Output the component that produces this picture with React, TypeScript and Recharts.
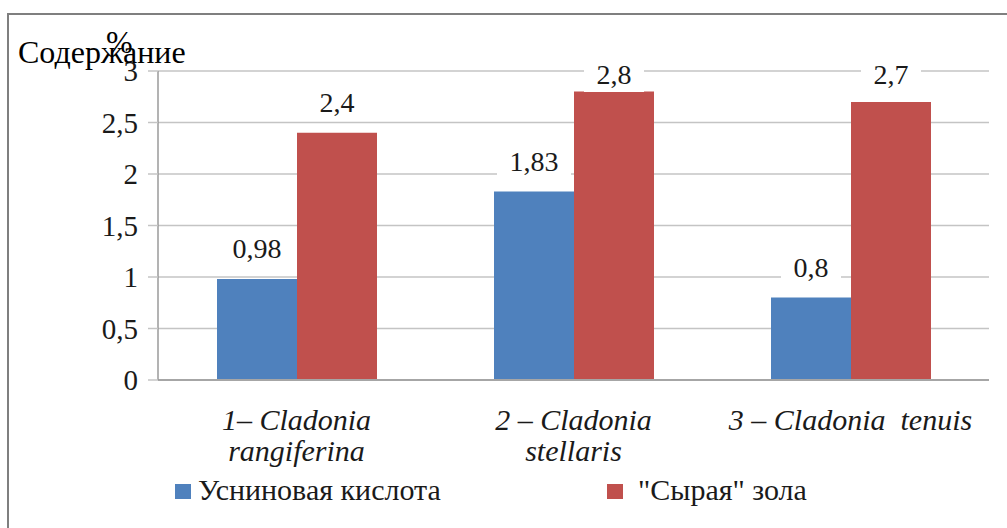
import React, { useLayoutEffect, useEffect } from "react";
import { BarChart, Bar, XAxis, YAxis, CartesianGrid, Legend, LabelList } from "recharts";

const categories = ["1– Cladonia rangiferina", "2 – Cladonia stellaris", "3 – Cladonia  tenuis"];
const categoryLines = [["1– Cladonia", "rangiferina"], ["2 – Cladonia", "stellaris"], ["3 – Cladonia  tenuis"]];
const usnicAcid = [0.98, 1.83, 0.8];
const rawAsh = [2.4, 2.8, 2.7];
const yTicks = [0, 0.5, 1, 1.5, 2, 2.5, 3];
const boundaryTicks = [0, 1, 2, 3];
const seriesNames = ["Усниновая кислота", "\"Сырая\" зола"];
const seriesColors = ["#4F81BD", "#C0504D"];
const titleText = "Содержание";
const unitText = "%";

const data = categories.map((name, i) => ({ name, usnic: usnicAcid[i], ash: rawAsh[i] }));

const FONT = '"Liberation Serif", "Times New Roman", serif';
const TEXT = "#1a1a1a";
const fmt = (v: number) => String(v).replace(".", ",");

const forceSerif = () => {
  const nodes = document.querySelectorAll("#chart-root text, #chart-root .serif-t, #chart-root .recharts-legend-wrapper div");
  nodes.forEach((el: any) => {
    el.style.setProperty("font-family", FONT, "important");
  });
};

const YTick = (props: any) => {
  const { x, y, payload } = props;
  return (
    <text className="serif-t" x={x} y={y} dy={10} textAnchor="end" fontFamily={FONT} fontSize={29} fill={TEXT}>
      {fmt(payload.value)}
    </text>
  );
};

const XTick = (props: any) => {
  const { x, y, payload } = props;
  const idx = categories.indexOf(payload.value);
  const lines = categoryLines[idx] || [payload.value];
  return (
    <g>
      {lines.map((l, i) => (
        <text
          key={i}
          className="serif-t"
          x={x}
          y={y + 50 + i * 31}
          textAnchor="middle"
          fill={TEXT}
          fontFamily={FONT}
          fontStyle="italic"
          fontSize={30}
          style={{ whiteSpace: "pre" }}
        >
          {l}
        </text>
      ))}
    </g>
  );
};

const EmptyTick = () => <g />;

const ValueLabel = (props: any) => {
  const { x, y, width, value } = props;
  const cx = x + width / 2;
  const by = Math.max(y - 21, 84);
  const txt = fmt(value);
  const w = txt.length * 14 + 18;
  return (
    <g>
      <rect x={cx - w / 2} y={by - 25} width={w} height={33} fill="#ffffff" />
      <text className="serif-t" x={cx} y={by} textAnchor="middle" fill={TEXT} fontFamily={FONT} fontSize={28}>
        {txt}
      </text>
    </g>
  );
};

const legendPos = [
  { sq: 175, tx: 198 },
  { sq: 607, tx: 638 },
];

const LegendContent = () => (
  <div style={{ position: "relative", width: 1007, height: 36 }}>
    {seriesNames.map((n, i) => (
      <React.Fragment key={n}>
        <div
          style={{
            position: "absolute",
            left: legendPos[i].sq,
            top: 10,
            width: 16,
            height: 15,
            background: seriesColors[i],
          }}
        />
        <div
          className="serif-t"
          style={{
            position: "absolute",
            left: legendPos[i].tx,
            top: 0,
            fontFamily: FONT,
            fontSize: 30,
            lineHeight: "32px",
            color: TEXT,
            whiteSpace: "pre",
          }}
        >
          {n}
        </div>
      </React.Fragment>
    ))}
  </div>
);

export default function App() {
  useLayoutEffect(() => {
    forceSerif();
  });
  useEffect(() => {
    forceSerif();
    const t1 = setTimeout(forceSerif, 50);
    const t2 = setTimeout(forceSerif, 300);
    return () => {
      clearTimeout(t1);
      clearTimeout(t2);
    };
  });
  return (
    <div
      id="chart-root"
      style={{ position: "absolute", left: 0, top: 0, width: 1007, height: 528, background: "#fff", overflow: "hidden", fontFamily: FONT }}
    >
      <div
        style={{
          position: "absolute",
          left: 7,
          top: 13,
          width: 1000,
          height: 515,
          borderLeft: "2px solid #7f7f7f",
          borderTop: "2px solid #7f7f7f",
          boxSizing: "border-box",
        }}
      />
      <div style={{ position: "absolute", left: 0, top: 0 }}>
        <BarChart
          width={1007}
          height={528}
          data={data}
          margin={{ top: 71, right: 18, left: 0, bottom: 58 }}
          barGap={0}
          barSize={80}
        >
          <CartesianGrid vertical={false} stroke="#c4c4c4" strokeWidth={1.5} />
          <XAxis
            xAxisId="b"
            type="number"
            domain={[0, 3]}
            ticks={boundaryTicks}
            axisLine={false}
            tickLine={{ stroke: "#9a9a9a", strokeWidth: 1.5 }}
            tickSize={12}
            height={0}
            tick={EmptyTick}
            allowDataOverflow
          />
          <XAxis
            dataKey="name"
            tickLine={false}
            tickSize={0}
            tickMargin={0}
            axisLine={{ stroke: "#a6a6a6", strokeWidth: 2 }}
            height={90}
            tick={XTick}
            interval={0}
          />
          <YAxis
            width={158}
            domain={[0, 3]}
            ticks={yTicks}
            axisLine={{ stroke: "#9a9a9a", strokeWidth: 1.5 }}
            tickLine={{ stroke: "#c4c4c4", strokeWidth: 1.5 }}
            tickSize={10}
            tickMargin={10}
            tick={YTick}
            interval={0}
          />
          <Legend
            layout="horizontal"
            verticalAlign="middle"
            align="center"
            wrapperStyle={{ top: 474, left: 0, width: 1007, height: 36 }}
            content={LegendContent}
          />
          <Bar dataKey="usnic" name={seriesNames[0]} fill={seriesColors[0]} isAnimationActive={false}>
            <LabelList dataKey="usnic" content={ValueLabel} />
          </Bar>
          <Bar dataKey="ash" name={seriesNames[1]} fill={seriesColors[1]} isAnimationActive={false}>
            <LabelList dataKey="ash" content={ValueLabel} />
          </Bar>
        </BarChart>
      </div>
      <div
        style={{
          position: "absolute",
          left: 18,
          top: 36,
          fontFamily: FONT,
          fontSize: 32,
          lineHeight: "32px",
          color: "#000",
          whiteSpace: "pre",
        }}
      >
        {titleText}
      </div>
      <div
        style={{
          position: "absolute",
          left: 106,
          top: 26,
          fontFamily: FONT,
          fontSize: 32,
          lineHeight: "32px",
          color: "#000",
        }}
      >
        {unitText}
      </div>
    </div>
  );
}
